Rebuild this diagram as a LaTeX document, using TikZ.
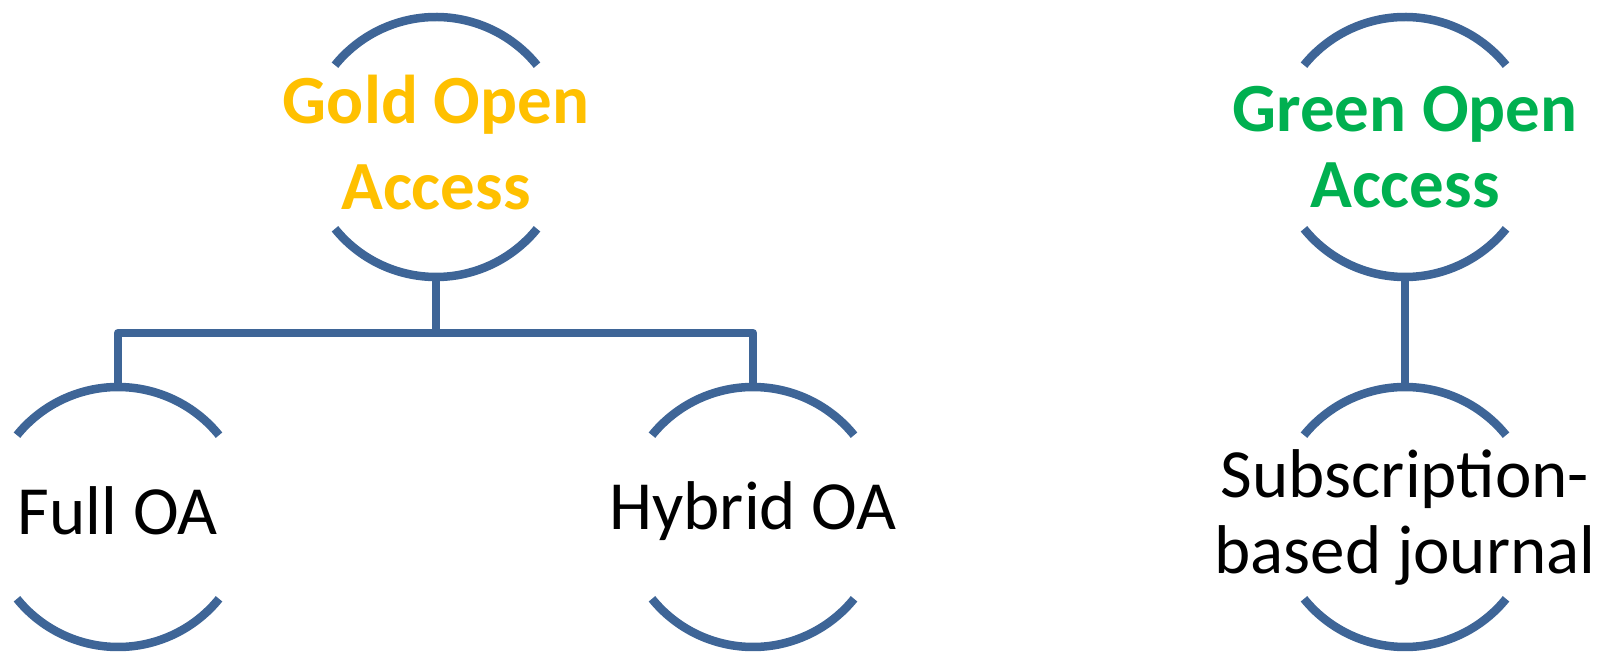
\documentclass[tikz,border=0pt]{standalone}
\usepackage{fontspec}
\setmainfont{Carlito}
\definecolor{ringblue}{HTML}{3E6597}
\definecolor{goldoa}{HTML}{FFC000}
\definecolor{greenoa}{HTML}{00B050}
\begin{document}
\begin{tikzpicture}[x=1pt, y=1pt,
    ring/.style={circle, minimum size=260pt, inner sep=0pt},
    lbl/.style={align=center, font=\fontsize{69}{76}\selectfont},
    word/.style={lbl, yshift=6pt},
    head/.style={lbl, font=\fontsize{69}{76}\selectfont\bfseries},
    link/.style={ringblue, line width=8.5pt, line join=round}]
    \useasboundingbox (0,0) rectangle (1601,656);
    % Top row: the two kinds of open access
    \node[ring, label={[head, text=goldoa, font=\fontsize{69}{86}\selectfont\bfseries, yshift=4pt]center:{Gold Open\\Access}}] (gold) at (436,509) {};
    \node[ring, label={[head, text=greenoa]center:{Green Open\\Access}}] (green) at (1405,509) {};
    % Bottom row
    \node[ring, label={[word]center:{Full OA}}] (full) at (118,139) {};
    \node[ring, label={[word]center:{Hybrid OA}}] (hybrid) at (753,139) {};
    \node[ring, label={[lbl]center:{Subscription-\\based journal}}] (subs) at (1405,139) {};
    % Open circles: top and bottom arcs only
    \foreach \n in {gold, green, full, hybrid, subs} {
        \draw[link] ([shift={(39:130pt)}]\n.center) arc[start angle=39, end angle=141, radius=130pt];
        \draw[link] ([shift={(219:130pt)}]\n.center) arc[start angle=219, end angle=321, radius=130pt];
    }
    % Connectors
    \coordinate (bar) at (436,323);
    \draw[link] (gold.south) -- (bar);
    \draw[link] (full.north) |- (bar) -| (hybrid.north);
    \draw[link] (green.south) -- (subs.north);
\end{tikzpicture}
\end{document}
